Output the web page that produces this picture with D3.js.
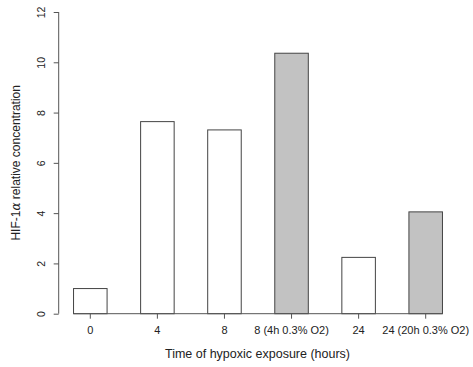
<!DOCTYPE html>
<html>
<head>
<meta charset="utf-8">
<script src="https://cdn.jsdelivr.net/npm/d3@7"></script>
<style>
  body { margin: 0; background: #fff; }
  svg { font-family: "Liberation Sans", Arial, sans-serif; }
</style>
</head>
<body>
<div id="chart"></div>
<script>
// hypoxia time points
const categories = ['0', '4', '8', '8 (4h 0.3% O2)', '24', '24 (20h 0.3% O2)'];
const values = [1.0, 7.64, 7.31, 10.36, 2.24, 4.05];
const lowO2 = [false, false, false, true, false, true];
const yTicks = [0, 2, 4, 6, 8, 10, 12];

const W = 473, H = 367;
const svg = d3.select('#chart').append('svg')
  .attr('width', W)
  .attr('height', H);

// x: bar width == gap width, like barplot(space = 1)
const x = d3.scaleBand()
  .domain(categories)
  .range([40.0, 476.0])
  .paddingInner(0.5)
  .paddingOuter(0.5);

const y = d3.scaleLinear()
  .domain([0, 12])
  .range([313.7, 12]);

const axisCol = '#555';

// bars
svg.selectAll('rect.bar')
  .data(categories)
  .join('rect')
  .attr('class', 'bar')
  .attr('x', d => x(d))
  .attr('width', x.bandwidth())
  .attr('y', (d, i) => y(values[i]))
  .attr('height', (d, i) => y(0) - y(values[i]))
  .attr('fill', (d, i) => lowO2[i] ? '#c2c2c2' : '#fff')
  .attr('stroke', '#444')
  .attr('stroke-width', 1);

// y axis, labels turned like R's las=0
const yAxis = d3.axisLeft(y).tickValues(yTicks).tickSize(5);
const gy = svg.append('g')
  .attr('transform', 'translate(58.7,0)')
  .call(yAxis);
gy.select('.domain').attr('d', `M0,${y(0)}V${y(12)}`).attr('stroke', axisCol);
gy.selectAll('.tick line').attr('stroke', axisCol);
gy.selectAll('.tick text')
  .attr('fill', '#222')
  .style('font-size', '10.5px')
  .attr('text-anchor', 'middle')
  .attr('x', 0)
  .attr('y', 0)
  .attr('dy', '0.35em')
  .attr('transform', 'translate(-17,0) rotate(-90)');

// x axis (line from first bar to last bar)
const xAxis = d3.axisBottom(x).tickSize(5).tickPadding(8);
const gx = svg.append('g')
  .attr('transform', `translate(0,${y(0)})`)
  .call(xAxis);
const x0 = x(categories[0]);
const x1 = x(categories[categories.length - 1]) + x.bandwidth();
gx.select('.domain').attr('d', `M${x0},0H${x1}`).attr('stroke', axisCol);
gx.selectAll('.tick line').attr('stroke', axisCol);
gx.selectAll('.tick text')
  .attr('fill', '#222')
  .style('font-size', '11px');

// titles
svg.append('text')
  .attr('x', (x0 + x1) / 2 - 0.5)
  .attr('y', 358)
  .attr('text-anchor', 'middle')
  .attr('fill', '#222')
  .style('font-size', '12.5px')
  .text('Time of hypoxic exposure (hours)');

const yl = svg.append('text')
  .attr('transform', `translate(20,${(y(0) + y(12)) / 2}) rotate(-90)`)
  .attr('text-anchor', 'middle')
  .attr('fill', '#222')
  .style('font-size', '12px');
yl.append('tspan').text('HIF-1');
yl.append('tspan').style('font-style', 'italic').style('font-family', 'DejaVu Serif, serif').text('α');
yl.append('tspan').text(' relative concentration');
</script>
</body>
</html>
